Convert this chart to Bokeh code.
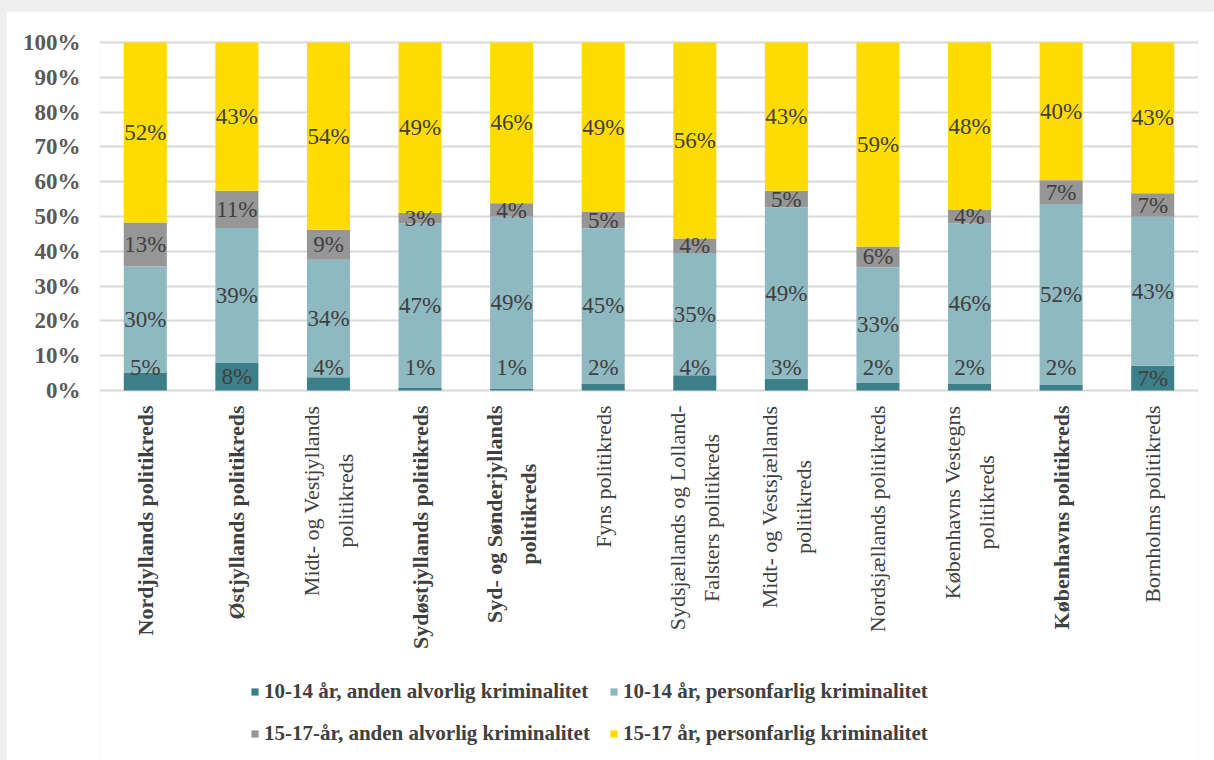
from bokeh.plotting import figure
from bokeh.models import (ColumnDataSource, Range1d, FactorRange, FixedTicker,
                          NumeralTickFormatter, Label, Legend, LegendItem)
from bokeh.layouts import column
from bokeh.embed import file_html
from bokeh.resources import INLINE
from bokeh.core.properties import value

# Police districts (line breaks as they are wrapped under the axis)
districts = [
    "Nordjyllands politikreds",
    "Østjyllands politikreds",
    "Midt- og Vestjyllands\npolitikreds",
    "Sydøstjyllands politikreds",
    "Syd- og Sønderjyllands\npolitikreds",
    "Fyns politikreds",
    "Sydsjællands og Lolland-\nFalsters politikreds",
    "Midt- og Vestsjællands\npolitikreds",
    "Nordsjællands politikreds",
    "Københavns Vestegns\npolitikreds",
    "Københavns politikreds",
    "Bornholms politikreds",
]
district_bold = [True, True, False, True, True, False,
                 False, False, False, False, True, False]

# Share of cases (%) per age group and crime type
age10_other = [5.2, 7.9, 3.8, 0.7, 0.6, 2.0, 4.4, 3.4, 2.3, 2.0, 1.6, 7.1]
age10_violent = [30.4, 38.8, 33.8, 47.3, 49.3, 44.6, 35.1, 49.2, 33.1, 46.0, 52.0, 42.8]
age15_other = [12.7, 10.7, 8.6, 3.0, 3.9, 4.7, 4.2, 4.8, 6.0, 4.0, 6.8, 6.8]
age15_violent = [51.7, 42.6, 53.8, 49.0, 46.2, 48.7, 56.3, 42.6, 58.6, 48.0, 39.6, 43.3]

series_names = [
    "10-14 år, anden alvorlig kriminalitet",
    "10-14 år, personfarlig kriminalitet",
    "15-17-år, anden alvorlig kriminalitet",
    "15-17 år, personfarlig kriminalitet",
]
series_colors = ["#3d7f89", "#8fb9c1", "#969696", "#ffdc00"]
y_ticks = [0.0, 0.1, 0.2, 0.3, 0.4, 0.5, 0.6, 0.7, 0.8, 0.9, 1.0]

series = [age10_other, age10_violent, age15_other, age15_violent]
keys = ["s0", "s1", "s2", "s3"]

data = {"district": districts}
for k, s in zip(keys, series):
    data[k] = [v / 100 for v in s]
src = ColumnDataSource(data)

SERIF = "'Liberation Serif'"

# The frame runs down to the bottom of the page so that the rotated district
# names and the legend can sit inside it; only 0-100 % carries ticks and grid.
p = figure(
    x_range=FactorRange(*districts),
    y_range=Range1d(-1.06322, 1.00575),
    width=1208, height=749,
    output_backend="svg", toolbar_location=None,
    x_axis_location=None,
    min_border_left=93, min_border_right=16,
    min_border_top=29, min_border_bottom=0,
)
p.outline_line_color = None
p.background_fill_color = "white"
p.border_fill_color = "white"

bars = p.vbar_stack(keys, x="district", width=0.47, source=src,
                    fill_color=series_colors, line_color=None)

# Percent labels inside each segment
lab_x, lab_y, lab_t = [], [], []
for i, d in enumerate(districts):
    base = 0.0
    for k, s in enumerate(series):
        v = s[i]
        mid = base + v / 2
        if k == 0 and v < 6:
            mid = 6.6
        lab_x.append(d)
        lab_y.append(mid / 100)
        lab_t.append(f"{int(v + 0.5)}%")
        base += v
p.text(x="x", y="y", text="t",
       source=ColumnDataSource(dict(x=lab_x, y=lab_y, t=lab_t)),
       text_align="center", text_baseline="middle",
       text_font=value(SERIF), text_font_size="23px", text_color="#404040")

# Y axis and grid
ticker = FixedTicker(ticks=y_ticks)
p.yaxis.ticker = ticker
p.ygrid.ticker = ticker
p.yaxis.formatter = NumeralTickFormatter(format="0%")
p.yaxis.major_label_text_font = SERIF
p.yaxis.major_label_text_font_style = "bold"
p.yaxis.major_label_text_font_size = "23px"
p.yaxis.major_label_text_color = "#595959"
p.yaxis.axis_line_color = None
p.yaxis.major_tick_line_color = None
p.yaxis.minor_tick_line_color = None
p.yaxis.major_label_standoff = 13
p.xgrid.visible = False
p.ygrid.grid_line_color = "#d9d9d9"
p.ygrid.grid_line_width = 2

# Rotated district names under the bars
has_anchor = "anchor" in Label.properties()
for i, (name, bold) in enumerate(zip(districts, district_bold)):
    kw = dict(
        x=i + 0.5, y=-0.043, x_units="data", y_units="data",
        text=name, angle=90, angle_units="deg",
        text_font=SERIF, text_font_size="22px",
        text_font_style="bold" if bold else "normal",
        text_color="#404040", text_line_height=1.35,
    )
    if has_anchor:
        kw.update(anchor="center_right", text_align="center", text_baseline="middle")
    else:
        kw.update(text_align="right", text_baseline="middle")
    p.add_layout(Label(**kw))


# Legend: two columns, each holding one age group's pair of series
def legend_column(idx, vx):
    lg = Legend(
        items=[LegendItem(label=series_names[j], renderers=[bars[j]]) for j in idx],
        location=(vx, 14),
        orientation="vertical",
        glyph_width=9, glyph_height=9, label_standoff=5, spacing=17,
        padding=0, margin=0, border_line_color=None, background_fill_alpha=0,
        label_text_font=SERIF, label_text_font_style="bold",
        label_text_font_size="21px", label_text_color="#404040", label_height=21,
    )
    p.add_layout(lg)


legend_column([0, 2], 151)
legend_column([1, 3], 510)

page = column(p, styles={"background-color": "#efefef",
                         "padding-top": "11px", "padding-left": "6px"})

open("out.html", "w").write(file_html(page, INLINE))
